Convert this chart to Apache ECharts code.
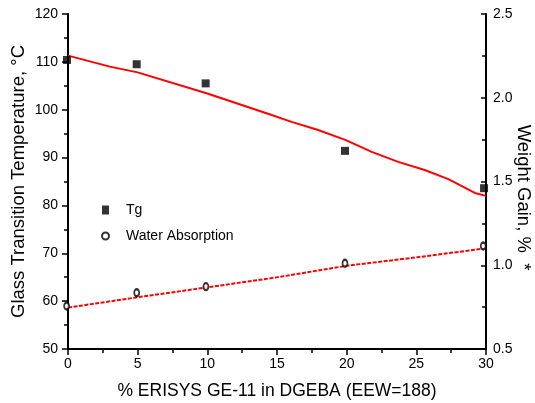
<!DOCTYPE html>
<html>
<head>
<meta charset="utf-8">
<script src="https://cdn.jsdelivr.net/npm/echarts@6/dist/echarts.min.js"></script>
<style>html,body{margin:0;padding:0;background:#fff}#c{width:535px;height:403px}</style>
</head>
<body>
<div id="c"></div>
<script>
var tgX = [-0.07, 4.93, 9.88, 19.88, 29.86];
var tgY = [110.4, 109.5, 105.5, 91.4, 83.6];
var tgFitX = [0, 3, 5, 10, 14.3, 16.1, 17.9, 19.9, 21.8, 23.7, 25.6, 27.3, 29.2, 30];
var tgFitY = [111.3, 109.0, 107.8, 103.4, 99.2, 97.4, 95.8, 93.7, 91.2, 89.1, 87.4, 85.5, 82.6, 82.0];
var waX = [-0.1, 4.93, 9.9, 19.88, 29.8];
var waY = [0.757, 0.836, 0.872, 1.012, 1.115];
var waFitX = [0, 5, 10, 15, 20, 25, 30];
var waFitY = [0.747, 0.809, 0.868, 0.928, 0.997, 1.047, 1.101];
var xTitle = '% ERISYS GE-11 in DGEBA (EEW=188)';
var yLeftTitle = 'Glass Transition Temperature, °C';
var yRightTitle = 'Weight Gain, %  *';

function pairs(xs, ys) { return xs.map(function (x, i) { return [x, ys[i]]; }); }

var FONT = '"Liberation Sans", Arial, sans-serif';
var chart = echarts.init(document.getElementById('c'));
chart.setOption({
  animation: false,
  backgroundColor: '#fff',
  textStyle: { fontFamily: FONT, color: '#000' },
  grid: { left: 68, right: 49, top: 14, bottom: 54, containLabel: false, outerBoundsMode: 'none' },
  legend: {
    orient: 'vertical',
    left: 96, top: 198,
    itemWidth: 7, itemHeight: 9,
    itemGap: 12,
    textStyle: { fontFamily: FONT, fontSize: 14, color: '#000', padding: [0, 0, 0, 12] },
    data: [
      { name: 'Tg', icon: 'rect' },
      { name: 'Water Absorption', icon: 'circle' }
    ]
  },
  xAxis: {
    type: 'value', min: 0, max: 30, interval: 5,
    name: xTitle, nameLocation: 'middle', nameGap: 33, nameMoveOverlap: false,
    nameTextStyle: { fontFamily: FONT, fontSize: 17.5, color: '#000' },
    axisLine: { lineStyle: { color: '#000', width: 2 } },
    axisTick: { show: true, length: 6, inside: false, lineStyle: { color: '#000', width: 1.5 } },
    minorTick: { show: true, splitNumber: 2, length: 4, lineStyle: { color: '#000', width: 1.5 } },
    axisLabel: { fontFamily: FONT, fontSize: 14, color: '#000', margin: 8 },
    splitLine: { show: false }
  },
  yAxis: [{
    type: 'value', min: 50, max: 120, interval: 10, position: 'left',
    name: yLeftTitle, nameLocation: 'middle', nameGap: 40, nameRotate: 90, nameMoveOverlap: false,
    nameTextStyle: { fontFamily: FONT, fontSize: 18.5, color: '#000' },
    axisLine: { show: true, lineStyle: { color: '#000', width: 2 } },
    axisTick: { show: true, length: 6, inside: false, lineStyle: { color: '#000', width: 1.5 } },
    minorTick: { show: true, splitNumber: 2, length: 4, lineStyle: { color: '#000', width: 1.5 } },
    axisLabel: { fontFamily: FONT, fontSize: 14, color: '#000', margin: 10 },
    splitLine: { show: false }
  }, {
    type: 'value', min: 0.5, max: 2.5, interval: 0.5, position: 'right',
    name: yRightTitle, nameLocation: 'middle', nameGap: 28, nameRotate: -90, nameMoveOverlap: false,
    nameTextStyle: { fontFamily: FONT, fontSize: 18.5, color: '#000', padding: [0, 0, 0, 32] },
    axisLine: { show: true, lineStyle: { color: '#000', width: 2 } },
    axisTick: { show: true, length: 5, inside: true, lineStyle: { color: '#000', width: 1.5 } },
    minorTick: { show: true, splitNumber: 2, length: 4, lineStyle: { color: '#000', width: 1.5 } },
    axisLabel: { fontFamily: FONT, fontSize: 14, color: '#000', margin: 7,
      formatter: function (v) { return v.toFixed(1); } },
    splitLine: { show: false }
  }],
  series: [{
    name: 'TgFit', type: 'line', yAxisIndex: 0, data: pairs(tgFitX, tgFitY),
    showSymbol: false, symbol: 'none', lineStyle: { color: '#ff0000', width: 2 }, z: 2
  }, {
    name: 'WaFit', type: 'line', yAxisIndex: 1, data: pairs(waFitX, waFitY),
    showSymbol: false, symbol: 'none', lineStyle: { color: '#ff0000', width: 2, type: [4, 1.5] }, z: 2
  }, {
    name: 'Tg', type: 'scatter', yAxisIndex: 0, data: pairs(tgX, tgY),
    symbol: 'rect', symbolSize: [8, 8], clip: false,
    itemStyle: { color: '#000' }, z: 3
  }, {
    name: 'Water Absorption', type: 'scatter', yAxisIndex: 1, data: pairs(waX, waY),
    symbol: 'circle', symbolSize: [5, 7], clip: false,
    itemStyle: { color: '#fff', borderColor: '#000', borderWidth: 2 }, z: 3
  }]
});
</script>
</body>
</html>
